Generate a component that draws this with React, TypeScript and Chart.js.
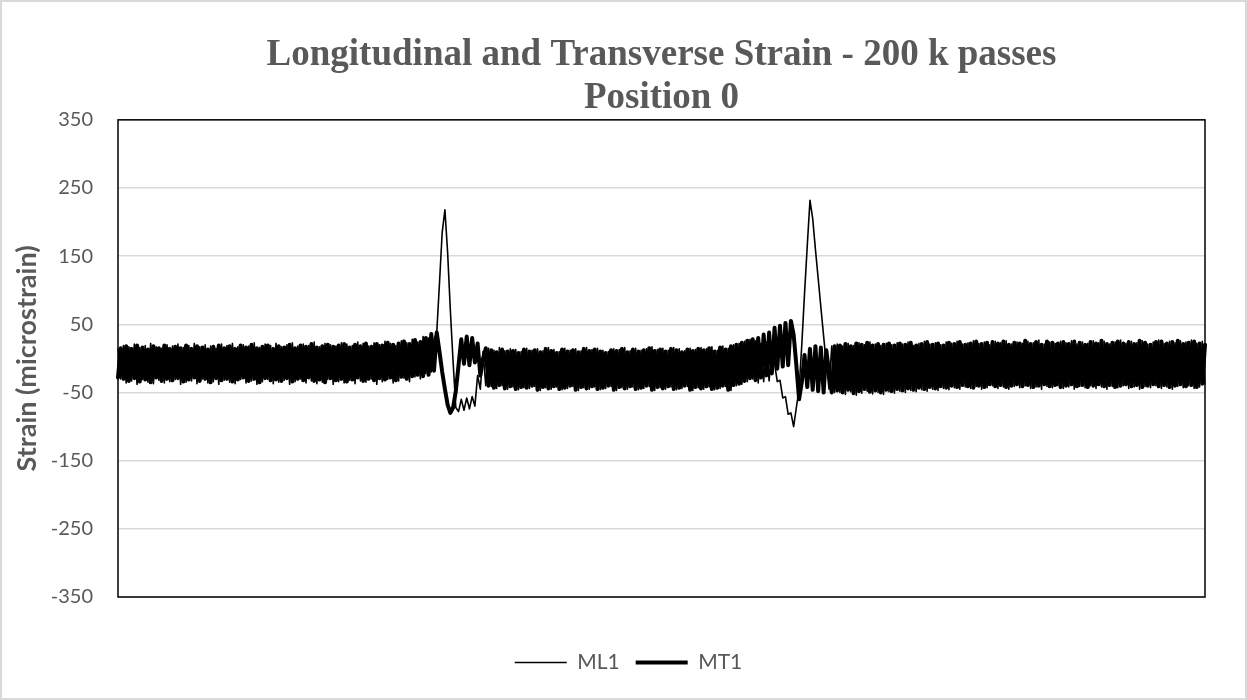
import React, { useEffect, useRef } from "react";
import { Chart, registerables } from "chart.js";

Chart.register(...registerables);

const TITLE_LINES = ["Longitudinal and Transverse Strain - 200 k passes", "Position 0"];
const Y_TITLE = "Strain (microstrain)";
const SERIES_NAMES = ["ML1", "MT1"];
const Y_MIN = -350;
const Y_MAX = 350;
const Y_STEP = 100;

const ML1: number[] = [
  14,-30,19,-36,17,-33,21,-38,16,-31,19,-35,22,-37,17,-32,15,-36,20,-34,
  18,-31,21,-38,16,-35,19,-33,22,-37,17,-30,20,-36,18,-34,15,-38,21,-32,
  19,-35,22,-37,17,-31,20,-36,18,-33,23,-38,16,-34,21,-31,19,-37,22,-35,
  17,-32,20,-38,23,-34,18,-30,21,-36,19,-33,24,-37,17,-35,22,-31,20,-38,
  18,-34,23,-36,21,-32,19,-37,24,-33,22,-35,18,-30,23,-38,20,-34,25,-31,
  22,-36,19,-33,26,-29,23,-34,28,-27,24,-30,32,-22,
  30,-20,28,38,110,185,218,155,70,-5,-72,-78,-60,-76,-58,-74,-56,-70,-25,-45,10,-40,
  15,-41,12,-44,16,-40,11,-45,14,-42,13,-46,10,-43,15,-44,12,-41,14,-47,
  11,-43,16,-45,13,-42,10,-46,15,-44,12,-41,14,-47,11,-43,16,-45,13,-42,
  15,-46,12,-44,10,-41,14,-47,13,-43,16,-45,11,-42,15,-46,12,-44,14,-41,
  17,-47,13,-43,15,-45,12,-42,16,-46,14,-44,11,-41,15,-47,13,-43,16,-45,
  14,-42,17,-46,12,-44,18,-41,15,-47,20,-40,22,-38,25,-34,28,-30,26,
  -36,22,-34,24,-33,18,-8,-34,-32,-58,-56,-82,-80,-100,-72,-45,20,95,165,232,205,160,118,75,33,-8,-45,18,-50,
  21,-50,18,-53,22,-49,19,-54,23,-51,20,-48,24,-52,21,-50,19,-53,22,-49,
  20,-51,23,-48,21,-50,24,-47,19,-49,22,-46,25,-48,21,-45,23,-47,20,-44,
  24,-46,22,-43,25,-45,21,-42,23,-44,26,-41,22,-45,24,-43,20,-40,25,-44,
  23,-42,26,-45,21,-41,24,-43,22,-40,25,-44,23,-42,27,-45,21,-41,24,-43,
  22,-40,25,-44,23,-42,26,-45,21,-41,24,-43,22,-40,26,-44,23,-42,25,-45,
  21,-41,24,-43,27,-40,22,-44,25,-42,23,-45,26,-41,21,-43,24,-40,27,-44,
  22,-42,25,-45,23,-41,26,-43,24,-40,27,-44,22,-42,25,-38,
];

const MT1: number[] = [
  -28,15,-30,18,-33,14,-29,19,-34,16,-31,13,-35,18,-28,15,-33,19,-30,14,
  -32,17,-29,15,-34,19,-31,14,-28,18,-33,16,-30,13,-35,17,-29,19,-32,15,
  -30,18,-34,14,-31,19,-28,16,-33,20,-30,15,-35,17,-29,19,-32,14,-31,18,
  -33,16,-29,20,-34,15,-30,19,-32,17,-28,21,-33,16,-31,18,-35,20,-29,17,
  -32,19,-30,21,-34,16,-31,20,-28,18,-33,22,-30,17,-32,21,-29,19,-31,23,
  -28,20,-32,22,-27,25,-30,21,-26,27,-24,24,
  -26,30,-24,36,-18,38,10,-20,-45,-68,-80,-72,-48,-10,28,-8,32,-10,30,-6,22,-25,0,15,
  -40,12,-43,9,-39,13,-44,10,-41,11,-45,8,-42,13,-43,10,-40,12,-46,9,
  -42,14,-44,11,-41,8,-45,13,-43,10,-40,12,-46,9,-42,14,-44,11,-41,13,
  -45,10,-43,8,-40,12,-46,11,-42,14,-44,9,-41,13,-45,10,-43,12,-40,15,
  -46,11,-42,13,-44,10,-41,14,-45,12,-43,9,-40,13,-46,11,-42,14,-44,12,
  -41,15,-45,10,-43,16,-40,13,-46,18,-39,20,-37,23,-33,26,-29,
  28,-32,30,-28,35,-25,38,-22,45,-15,48,-12,52,-10,55,35,-10,-60,-35,5,-42,14,-46,18,-48,16,-50,12,-20,-50,18,
  -47,19,-50,21,-46,18,-51,22,-48,20,-45,23,-49,19,-47,21,-50,20,-46,22,
  -48,19,-45,22,-47,20,-44,23,-46,19,-43,21,-45,24,-42,20,-44,22,-41,19,
  -43,23,-40,21,-42,24,-39,20,-41,22,-43,25,-40,21,-42,23,-38,24,-41,22,
  -39,25,-42,20,-40,23,-38,22,-41,26,-39,21,-42,24,-40,20,-38,25,-41,23,
  -39,22,-42,24,-40,21,-38,25,-41,23,-39,20,-42,24,-40,22,-38,26,-41,21,
  -39,23,-42,25,-40,22,-38,24,-41,21,-39,26,-42,23,-40,20,-38,24,-41,25,
  -39,22,-42,24,-40,26,-38,21,-41,23,-39,25,-42,22,-37,20,
];

const framePlugin = {
  id: "plotFrame",
  afterDatasetsDraw(chart: any) {
    const { ctx, chartArea: a } = chart;
    ctx.save();
    ctx.strokeStyle = "#000";
    ctx.lineWidth = 1.5;
    ctx.strokeRect(a.left, a.top, a.right - a.left, a.bottom - a.top);
    ctx.restore();
  },
};

export default function App() {
  const ref = useRef<HTMLCanvasElement>(null);

  useEffect(() => {
    const n = Math.max(ML1.length, MT1.length);
    const labels = Array.from({ length: n }, (_, i) => String(i));
    const chart = new Chart(ref.current as HTMLCanvasElement, {
      type: "line",
      data: {
        labels,
        datasets: [
          {
            label: SERIES_NAMES[0],
            data: ML1,
            borderColor: "#000",
            backgroundColor: "#000",
            borderWidth: 1.6,
            pointRadius: 0,
            pointStyle: "line",
            tension: 0,
            borderCapStyle: "round",
            borderJoinStyle: "round",
          },
          {
            label: SERIES_NAMES[1],
            data: MT1,
            borderColor: "#000",
            backgroundColor: "#000",
            borderWidth: 4,
            pointRadius: 0,
            pointStyle: "line",
            tension: 0,
            borderCapStyle: "round",
            borderJoinStyle: "round",
          },
        ],
      },
      options: {
        responsive: false,
        animation: false,
        events: [],
        layout: { padding: { left: 52, right: 42, top: 0, bottom: 17 } },
        plugins: {
          title: {
            display: true,
            fullSize: false,
            text: TITLE_LINES,
            color: "#595959",
            font: { family: "'Liberation Serif', 'Times New Roman', serif", size: 37, weight: "bold", lineHeight: 1.16 },
            padding: { top: 34, bottom: 0 },
          },
          legend: {
            position: "bottom",
            labels: {
              color: "#595959",
              font: { family: "Lato, 'Open Sans', sans-serif", size: 21 },
              usePointStyle: true,
              pointStyle: "line",
              pointStyleWidth: 52,
              padding: 16,
            },
          },
          tooltip: { enabled: false },
        },
        scales: {
          x: {
            type: "category",
            ticks: { display: false },
            grid: { display: false },
            border: { display: false },
            afterFit: (s: any) => {
              s.height = 39;
            },
          },
          y: {
            min: Y_MIN,
            max: Y_MAX,
            ticks: {
              stepSize: Y_STEP,
              color: "#595959",
              font: { family: "Lato, 'Open Sans', sans-serif", size: 20 },
              padding: 25,
            },
            grid: { color: "#d9d9d9", lineWidth: 1.5, drawTicks: false },
            border: { display: false },
            title: {
              display: true,
              text: Y_TITLE,
              color: "#595959",
              font: { family: "Lato, 'Open Sans', sans-serif", size: 27, weight: "bold", lineHeight: 1.2 },
              padding: { top: -41, bottom: 0 },
            },
            afterFit: (s: any) => {
              s.width = 66;
            },
          },
        },
      },
      plugins: [framePlugin],
    } as any);
    return () => chart.destroy();
  }, []);

  return (
    <div style={{ position: "fixed", left: 0, top: 0, width: 1247, height: 700, background: "#fff" }}>
      <canvas ref={ref} width={1247} height={700} style={{ display: "block", width: 1247, height: 700 }} />
      <div
        style={{
          position: "absolute",
          inset: 0,
          border: "2px solid #d9d9d9",
          boxSizing: "border-box",
          pointerEvents: "none",
        }}
      />
    </div>
  );
}
